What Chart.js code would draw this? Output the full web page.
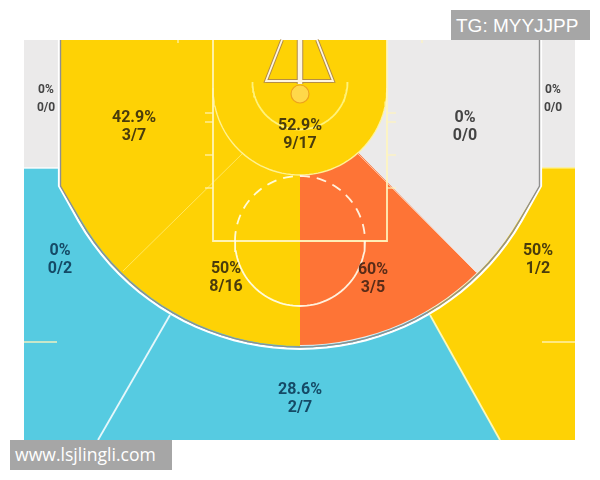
<!DOCTYPE html>
<html>
<head>
<meta charset="utf-8">
<script src="https://cdn.jsdelivr.net/npm/chart.js@4"></script>
<style>
html,body{margin:0;padding:0;background:#fff;width:600px;height:480px;overflow:hidden}
#wrap{position:relative;width:600px;height:480px}
canvas{position:absolute;left:0;top:0}
.mark{position:absolute;background:#a6a6a6;color:#fff;height:30px;line-height:30px;white-space:nowrap}
</style>
</head>
<body>
<div id="wrap">
<canvas id="c" width="600" height="480"></canvas>
<div class="mark" style="left:451px;top:10px;width:134px;padding-left:5px;font:19px/32px 'Liberation Sans'">TG: MYYJJPP</div>
<div class="mark" style="left:10px;top:440px;width:157px;padding-left:5px;font:17.6px/29px 'Open Sans'">www.lsjlingli.com</div>
</div>
<script>
// Zone statistics
const zonePct   = ["0%","0%","42.9%","0%","52.9%","0%","50%","60%","50%","28.6%"];
const zoneShots = ["0/0","0/0","3/7","0/0","9/17","0/2","8/16","3/5","1/2","2/7"];
const zoneX     = [46,553,134,465,300,60,226,373,538,300];
const zoneY     = [90,90,118,118,126,251,269,270,251,390];
const zoneSize  = [12,12,16,16,16,16,16,16,16,16];
const zoneInk   = ["#444","#444","#4a3c0c","#444","#4a3c0c","#154a66","#4a3c0c","#5a2c18","#4a3c0c","#154a66"];

const YELLOW="#fed205", BLUE="#56cbe1", GREY="#ebeaea", ORANGE="#fe7436";
const PALE="rgba(255,240,130,.85)", WHITE="rgba(255,255,255,.85)", BROWN="#b08a4a";

// Court geometry in the units of the hidden axes
const hoopX=300, hoopY=93, stadiumY=88, circleY=241;
function arc(cx,cy,r,a0,a1){
  const pts=[], n=Math.max(4,Math.ceil(Math.abs(a1-a0)/3));
  for(let i=0;i<=n;i++){const a=(a0+(a1-a0)*i/n)*Math.PI/180;pts.push({x:cx+r*Math.cos(a),y:cy+r*Math.sin(a)});}
  return pts;
}
const P=(x,y)=>({x,y});
const greyBand =[P(24,40),P(575,40),P(575,168),P(24,168)];
const blueZone =[P(24,168),P(300,168),P(430,315),P(500,440),P(24,440)];
const yellowZone=[P(300,168),P(575,168),P(575,440),P(500,440),P(430,315)];
const leftInner =[P(300,40),P(60.5,40),P(60.5,186),...arc(hoopX,hoopY,253,150,90)];
const rightInner=[P(300,40),P(539.5,40),P(539.5,186),...arc(hoopX,hoopY,253,30,90)];
const orangeWedge=[...arc(hoopX,stadiumY,87,90,48),...arc(hoopX,hoopY,252,45.5,90)];
const stadium=[P(213,40),P(387,40),P(387,stadiumY),...arc(hoopX,stadiumY,87,0,180),P(213,40)];
const threeLine=(r,dx)=>[P(hoopX-dx,40),P(hoopX-dx,186),...arc(hoopX,hoopY,r,150,30),P(hoopX+dx,186),P(hoopX+dx,40)];
const paint=[P(213,40),P(213,241),P(387,241),P(387,40)];
const tri=[P(282,40),P(266,81),P(333,81),P(317,40)];
const stem=[P(300,40),P(300,84)];
const ticks=[[205,113,213,113],[205,122,213,122],[205,155,213,155],[205,188,213,188],
             [387,113,396,113],[387,122,396,122],[387,155,396,155],[387,188,396,188],
             [24,342,57,342],[542,342,575,342],[178,40,178,43],[422,40,422,43]];

const datasets=[];
const fillD=(data,color)=>datasets.push({data,backgroundColor:color,borderWidth:0,fill:'shape',showLine:true,pointRadius:0,tension:0});
const lineD=(data,color,w,dash)=>datasets.push({data,borderColor:color,borderWidth:w,borderDash:dash||[],fill:false,showLine:true,pointRadius:0,tension:0});

fillD(greyBand,GREY);
fillD(blueZone,BLUE);
fillD(yellowZone,YELLOW);
lineD([P(24,168),P(59,168)],"rgba(255,255,255,.9)",1.5);
lineD([P(541,168),P(575,168)],PALE,1.5);
lineD([P(170,315),P(98,440)],WHITE,1.8);
lineD([P(430,315),P(500,440)],"rgba(255,250,190,.95)",1.8);
fillD(leftInner,YELLOW);
fillD(rightInner,GREY);
fillD(orangeWedge,ORANGE);
lineD([P(357,153),P(476,272)],"rgba(255,255,255,.5)",1);
lineD([P(243,153),P(123,271)],"rgba(255,240,130,.7)",1);
lineD(threeLine(255.8,241),"#ffffff",2.2);
lineD(threeLine(254,239.5),"#8f8f8f",1.4);
fillD(stadium,YELLOW);
lineD(arc(hoopX,stadiumY,87,0,180),"rgba(255,245,160,.9)",1.4);
lineD(paint,"rgba(255,245,190,.95)",1.8);
lineD(arc(hoopX,circleY,65,0,180),"rgba(255,255,240,.9)",1.8);
lineD(arc(hoopX,circleY,65,180,360),"rgba(255,255,240,.9)",1.8,[10,7]);
lineD(arc(hoopX,82,47.5,0,180),"#fff27a",1.8);
ticks.forEach(t=>lineD([P(t[0],t[1]),P(t[2],t[3])],"rgba(255,245,190,.9)",1.3));
lineD(tri,BROWN,3.6);
lineD([P(266,81),P(333,81)],BROWN,3.6);
lineD(stem,BROWN,6.5);
lineD(tri,"#fff6e0",1.8);
lineD([P(266,81),P(333,81)],"#fff6e0",1.8);
lineD(stem,"#fff6e0",4.5);
datasets.push({data:[P(hoopX,94)],pointRadius:9,pointBackgroundColor:"#ffd84a",pointBorderColor:"#eda21e",pointBorderWidth:1.2,showLine:false});
datasets.forEach((d,i)=>{d.order=datasets.length-i;});

const zoneText={id:'zoneText',afterDatasetsDraw(chart){
  const {ctx,scales:{x,y}}=chart;
  ctx.save();ctx.textAlign='center';ctx.textBaseline='middle';
  zonePct.forEach((p,i)=>{
    ctx.font=`700 ${zoneSize[i]}px Roboto`;
    ctx.fillStyle=zoneInk[i];
    ctx.fillText(p,x.getPixelForValue(zoneX[i]),y.getPixelForValue(zoneY[i]));
    ctx.fillText(zoneShots[i],x.getPixelForValue(zoneX[i]),y.getPixelForValue(zoneY[i]+18));
  });
  ctx.restore();
}};

new Chart(document.getElementById('c'),{
  type:'scatter',
  data:{datasets},
  plugins:[zoneText],
  options:{
    responsive:false,animation:false,
    layout:{padding:0,autoPadding:false},
    plugins:{legend:{display:false},tooltip:{enabled:false},title:{display:false}},
    scales:{
      x:{type:'linear',min:0,max:600,display:false},
      y:{type:'linear',min:0,max:480,reverse:true,display:false}
    }
  }
});
</script>
</body>
</html>
